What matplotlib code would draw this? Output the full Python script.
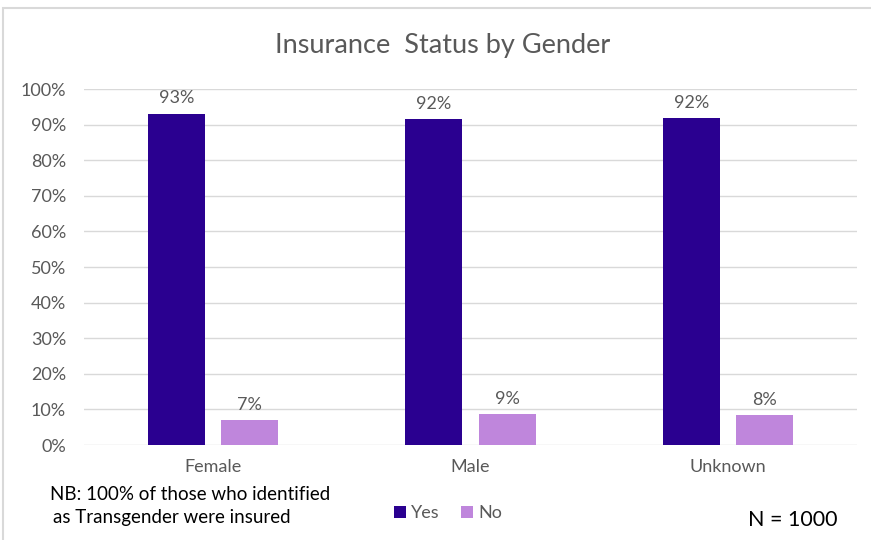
import numpy as np
import matplotlib.pyplot as plt
from matplotlib.patches import Rectangle

# Data
genders = ["Female", "Male", "Unknown"]
yes_pct = [93.1, 91.6, 91.8]
no_pct = [6.9, 8.6, 8.3]

yes_color = "#2a0090"
no_color = "#bf86dc"
text_gray = "#595959"

plt.rcParams['font.family'] = ['Lato', 'DejaVu Sans']

fig = plt.figure(figsize=(8.71, 5.40), dpi=100)
ax = fig.add_axes([84 / 871, 1 - 445 / 540, 773 / 871, 356 / 540])

x = np.arange(len(genders))
w = 0.221
off = 0.142
b1 = ax.bar(x - off, yes_pct, w, color=yes_color, label="Yes", zorder=3)
b2 = ax.bar(x + off, no_pct, w, color=no_color, label="No", zorder=3)

for bars in (b1, b2):
    for b in bars:
        ax.text(b.get_x() + b.get_width() / 2, b.get_height() + 2.0,
                "{:.0f}%".format(b.get_height()), ha="center", va="bottom",
                fontsize=13, color=text_gray)

ax.set_xlim(-0.5, 2.5)
ax.set_ylim(0, 100)
ax.set_yticks(range(0, 101, 10))
ax.set_yticklabels(["{}%".format(v) for v in range(0, 101, 10)])
ax.set_xticks(x)
ax.set_xticklabels(genders)
ax.tick_params(axis="both", length=0, labelsize=13, colors=text_gray)
ax.tick_params(axis="y", pad=13)
ax.tick_params(axis="x", pad=10)
ax.grid(axis="y", color="#d9d9d9", linewidth=1, zorder=0)
for s in ax.spines.values():
    s.set_visible(False)

fig.text(443 / 871, 1 - 45 / 540, "Insurance  Status by Gender", ha="center", va="center",
         fontsize=19.5, color=text_gray)

fig.legend(handles=[b1, b2], loc="center", bbox_to_anchor=(448 / 871, 1 - 513 / 540),
           ncol=2, frameon=False, fontsize=13, handlelength=0.65, handleheight=0.65,
           handletextpad=0.3, columnspacing=1.2, labelcolor=text_gray)

fig.text(50 / 871, 1 - 495 / 540, "NB: 100% of those who identified", ha="left",
         va="center", fontsize=13.5, color="black")
fig.text(53 / 871, 1 - 518 / 540, "as Transgender were insured", ha="left",
         va="center", fontsize=13.5, color="black")
fig.text(793 / 871, 1 - 520 / 540, "N = 1000", ha="center", va="center",
         fontsize=15.5, color="black")

fig.patches.append(Rectangle((3 / 871, -0.1), 1.1, 1 - 8 / 540 + 0.1,
                             transform=fig.transFigure, fill=False,
                             edgecolor="#d9d9d9", linewidth=1.5))

fig.savefig("out.png", dpi=100)
